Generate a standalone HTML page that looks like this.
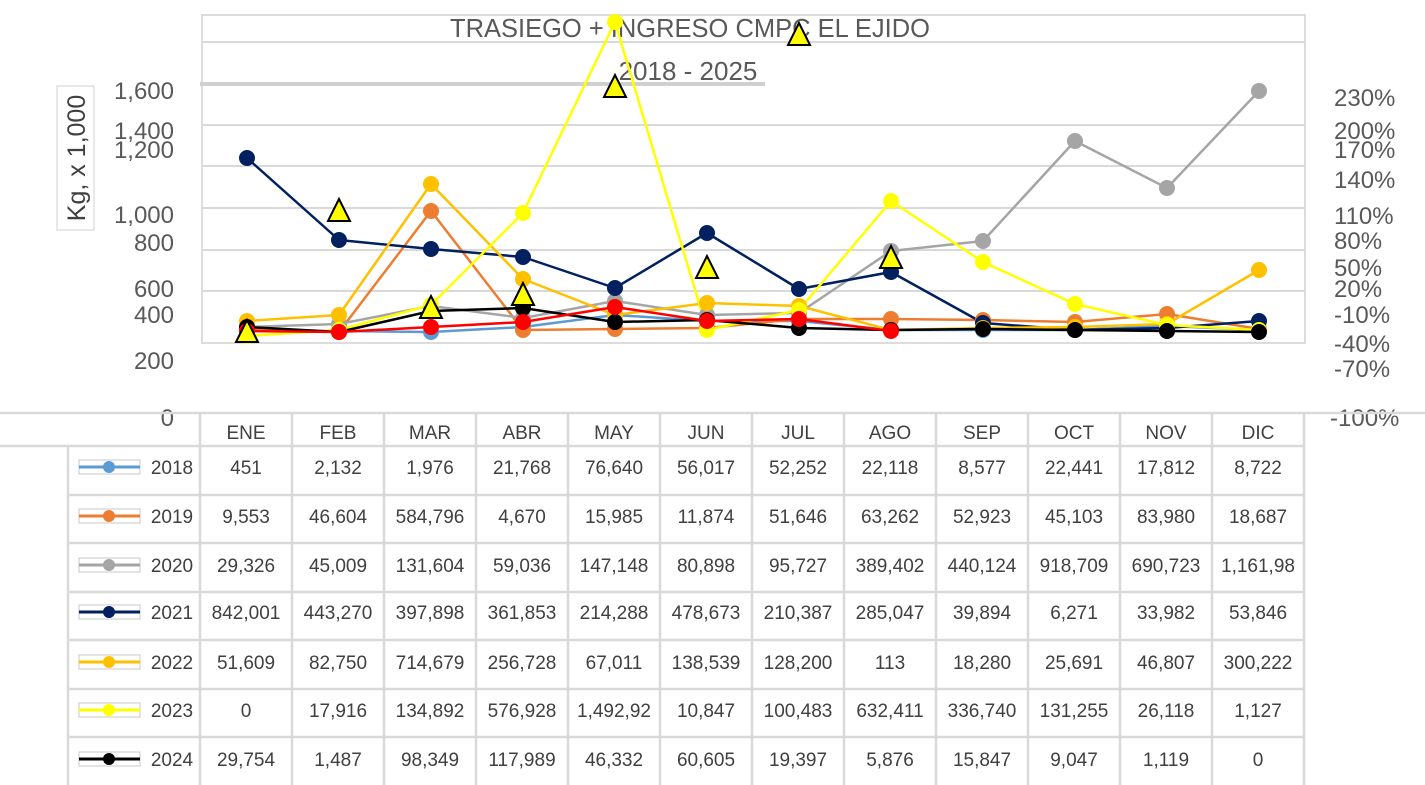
<!DOCTYPE html>
<html><head><meta charset="utf-8"><style>
html,body{margin:0;padding:0;background:#fff;width:1425px;height:785px;overflow:hidden}
svg{display:block;font-family:"Liberation Sans",sans-serif}
circle{r:8px}
.lg circle{r:6px}
</style></head><body>
<svg width="1425" height="785" viewBox="0 0 1425 785" xmlns="http://www.w3.org/2000/svg">
<rect width="1425" height="785" fill="#fff"/>
<rect x="202" y="15" width="1103" height="328" fill="#fff" stroke="#d0d0d0" stroke-width="1.5"/>
<g stroke="#d9d9d9" stroke-width="2">
<line x1="202" y1="42" x2="1305" y2="42"/>
<line x1="202" y1="125" x2="1305" y2="125"/>
<line x1="202" y1="166" x2="1305" y2="166"/>
<line x1="202" y1="208" x2="1305" y2="208"/>
<line x1="202" y1="250" x2="1305" y2="250"/>
<line x1="202" y1="291" x2="1305" y2="291"/>
</g>
<line x1="200" y1="84" x2="765" y2="84" stroke="#d0d0d0" stroke-width="4"/>
<text x="690" y="37" font-size="26" fill="#595959" text-anchor="middle" textLength="480" lengthAdjust="spacingAndGlyphs">TRASIEGO + INGRESO CMPC EL EJIDO</text>
<text x="688" y="80" font-size="26" fill="#595959" text-anchor="middle">2018 - 2025</text>
<rect x="57" y="86" width="37" height="144" fill="#fff" stroke="#d0d0d0" stroke-width="1"/>
<text transform="translate(85,158) rotate(-90)" font-size="25" fill="#404040" text-anchor="middle">Kg, x 1,000</text>
<g font-size="24" fill="#595959" text-anchor="end">
<text x="174" y="99">1,600</text>
<text x="174" y="139">1,400</text>
<text x="174" y="158">1,200</text>
<text x="174" y="223">1,000</text>
<text x="174" y="251">800</text>
<text x="174" y="297">600</text>
<text x="174" y="323">400</text>
<text x="174" y="369">200</text>
<text x="174" y="426">0</text>
</g>
<g font-size="24" fill="#595959" text-anchor="start">
<text x="1334" y="106">230%</text>
<text x="1334" y="139">200%</text>
<text x="1334" y="158">170%</text>
<text x="1334" y="188">140%</text>
<text x="1334" y="224">110%</text>
<text x="1334" y="249">80%</text>
<text x="1334" y="276">50%</text>
<text x="1334" y="297">20%</text>
<text x="1334" y="323">-10%</text>
<text x="1334" y="352">-40%</text>
<text x="1334" y="377">-70%</text>
<text x="1330" y="426">-100%</text>
</g>
<g fill="none" stroke-width="2.5" stroke-linejoin="round">
<polyline stroke="#5b9bd5" points="247,331 339,331 431,332 523,327 615,315 707,321 799,321 891,330 983,330 1075,330 1167,326 1259,330"/>
<polyline stroke="#ed7d31" points="247,329 339,332 431,211 523,330 615,329 707,328 799,319 891,319 983,320 1075,322 1167,314 1259,329"/>
<polyline stroke="#a5a5a5" points="247,327 339,324 431,306 523,318 615,301 707,315 799,313 891,251 983,241 1075,141 1167,188 1259,91"/>
<polyline stroke="#002060" points="247,158 339,240 431,249 523,257 615,288 707,233 799,289 891,272 983,323 1075,330 1167,328 1259,321"/>
<polyline stroke="#ffc000" points="247,321 339,315 431,184 523,279 615,315 707,303 799,306 891,330 983,328 1075,327 1167,324 1259,270"/>
<polyline stroke="#ffff00" points="247,336 339,330 431,305 523,213 615,22 707,330 799,310 891,201 983,262 1075,304 1167,325 1259,330"/>
<polyline stroke="#000" points="247,327 339,332 431,311 523,308 615,322 707,320 799,328 891,330 983,329 1075,330 1167,331 1259,332"/>
<polyline stroke="#ff0000" points="247,331 339,332 431,327 523,322 615,307 707,321 799,319 891,331"/>
</g>
<g fill="#5b9bd5"><circle cx="247" cy="331" r="7"/><circle cx="339" cy="331" r="7"/><circle cx="431" cy="332" r="7"/><circle cx="523" cy="327" r="7"/><circle cx="615" cy="315" r="7"/><circle cx="707" cy="321" r="7"/><circle cx="799" cy="321" r="7"/><circle cx="891" cy="330" r="7"/><circle cx="983" cy="330" r="7"/><circle cx="1075" cy="330" r="7"/><circle cx="1167" cy="326" r="7"/><circle cx="1259" cy="330" r="7"/></g>
<g fill="#ed7d31"><circle cx="247" cy="329" r="7"/><circle cx="339" cy="332" r="7"/><circle cx="431" cy="211" r="7"/><circle cx="523" cy="330" r="7"/><circle cx="615" cy="329" r="7"/><circle cx="707" cy="328" r="7"/><circle cx="799" cy="319" r="7"/><circle cx="891" cy="319" r="7"/><circle cx="983" cy="320" r="7"/><circle cx="1075" cy="322" r="7"/><circle cx="1167" cy="314" r="7"/><circle cx="1259" cy="329" r="7"/></g>
<g fill="#a5a5a5"><circle cx="247" cy="327" r="7"/><circle cx="339" cy="324" r="7"/><circle cx="431" cy="306" r="7"/><circle cx="523" cy="318" r="7"/><circle cx="615" cy="301" r="7"/><circle cx="707" cy="315" r="7"/><circle cx="799" cy="313" r="7"/><circle cx="891" cy="251" r="7"/><circle cx="983" cy="241" r="7"/><circle cx="1075" cy="141" r="7"/><circle cx="1167" cy="188" r="7"/><circle cx="1259" cy="91" r="7"/></g>
<g fill="#002060"><circle cx="247" cy="158" r="7"/><circle cx="339" cy="240" r="7"/><circle cx="431" cy="249" r="7"/><circle cx="523" cy="257" r="7"/><circle cx="615" cy="288" r="7"/><circle cx="707" cy="233" r="7"/><circle cx="799" cy="289" r="7"/><circle cx="891" cy="272" r="7"/><circle cx="983" cy="323" r="7"/><circle cx="1075" cy="330" r="7"/><circle cx="1167" cy="328" r="7"/><circle cx="1259" cy="321" r="7"/></g>
<g fill="#ffc000"><circle cx="247" cy="321" r="7"/><circle cx="339" cy="315" r="7"/><circle cx="431" cy="184" r="7"/><circle cx="523" cy="279" r="7"/><circle cx="615" cy="315" r="7"/><circle cx="707" cy="303" r="7"/><circle cx="799" cy="306" r="7"/><circle cx="891" cy="330" r="7"/><circle cx="983" cy="328" r="7"/><circle cx="1075" cy="327" r="7"/><circle cx="1167" cy="324" r="7"/><circle cx="1259" cy="270" r="7"/></g>
<g fill="#ffff00"><circle cx="247" cy="336" r="7"/><circle cx="339" cy="330" r="7"/><circle cx="431" cy="305" r="7"/><circle cx="523" cy="213" r="7"/><circle cx="615" cy="22" r="7"/><circle cx="707" cy="330" r="7"/><circle cx="799" cy="310" r="7"/><circle cx="891" cy="201" r="7"/><circle cx="983" cy="262" r="7"/><circle cx="1075" cy="304" r="7"/><circle cx="1167" cy="325" r="7"/><circle cx="1259" cy="330" r="7"/></g>
<g fill="#000"><circle cx="247" cy="327" r="7"/><circle cx="339" cy="332" r="7"/><circle cx="431" cy="311" r="7"/><circle cx="523" cy="308" r="7"/><circle cx="615" cy="322" r="7"/><circle cx="707" cy="320" r="7"/><circle cx="799" cy="328" r="7"/><circle cx="891" cy="330" r="7"/><circle cx="983" cy="329" r="7"/><circle cx="1075" cy="330" r="7"/><circle cx="1167" cy="331" r="7"/><circle cx="1259" cy="332" r="7"/></g>
<g fill="#ff0000"><circle cx="247" cy="331" r="7"/><circle cx="339" cy="332" r="7"/><circle cx="431" cy="327" r="7"/><circle cx="523" cy="322" r="7"/><circle cx="615" cy="307" r="7"/><circle cx="707" cy="321" r="7"/><circle cx="799" cy="319" r="7"/><circle cx="891" cy="331" r="7"/></g>
<g fill="#ffff00" stroke="#000" stroke-width="2" stroke-linejoin="miter">
<polygon points="247,320 236,342 258,342"/>
<polygon points="339,199 328,221 350,221"/>
<polygon points="431,296 420,318 442,318"/>
<polygon points="523,283 512,305 534,305"/>
<polygon points="615,75 604,97 626,97"/>
<polygon points="707,256 696,278 718,278"/>
<polygon points="799,23 788,45 810,45"/>
<polygon points="891,246 880,268 902,268"/>
</g>
<g stroke="#d9d9d9" stroke-width="2.5">
<line x1="0" y1="413" x2="1425" y2="413"/>
<line x1="0" y1="446" x2="1304" y2="446"/>
<line x1="68" y1="495" x2="1304" y2="495"/>
<line x1="68" y1="543" x2="1304" y2="543"/>
<line x1="68" y1="592" x2="1304" y2="592"/>
<line x1="68" y1="640" x2="1304" y2="640"/>
<line x1="68" y1="689" x2="1304" y2="689"/>
<line x1="68" y1="737" x2="1304" y2="737"/>
<line x1="68" y1="446" x2="68" y2="785"/>
<line x1="200" y1="413" x2="200" y2="785"/>
<line x1="292" y1="413" x2="292" y2="785"/>
<line x1="384" y1="413" x2="384" y2="785"/>
<line x1="476" y1="413" x2="476" y2="785"/>
<line x1="568" y1="413" x2="568" y2="785"/>
<line x1="660" y1="413" x2="660" y2="785"/>
<line x1="752" y1="413" x2="752" y2="785"/>
<line x1="844" y1="413" x2="844" y2="785"/>
<line x1="936" y1="413" x2="936" y2="785"/>
<line x1="1028" y1="413" x2="1028" y2="785"/>
<line x1="1120" y1="413" x2="1120" y2="785"/>
<line x1="1212" y1="413" x2="1212" y2="785"/>
<line x1="1304" y1="413" x2="1304" y2="785"/>
</g>
<g font-size="19" fill="#404040" text-anchor="middle">
<text x="246" y="439">ENE</text><text x="338" y="439">FEB</text><text x="430" y="439">MAR</text><text x="522" y="439">ABR</text><text x="614" y="439">MAY</text><text x="706" y="439">JUN</text><text x="798" y="439">JUL</text><text x="890" y="439">AGO</text><text x="982" y="439">SEP</text><text x="1074" y="439">OCT</text><text x="1166" y="439">NOV</text><text x="1258" y="439">DIC</text>
</g>
<g class="lg">
<rect x="79" y="460" width="61" height="14" fill="#fff" stroke="#c8c8c8"/><line x1="79" y1="467" x2="140" y2="467" stroke="#5b9bd5" stroke-width="3"/><circle cx="109" cy="467" r="6" fill="#5b9bd5"/>
<rect x="79" y="509" width="61" height="14" fill="#fff" stroke="#c8c8c8"/><line x1="79" y1="516" x2="140" y2="516" stroke="#ed7d31" stroke-width="3"/><circle cx="109" cy="516" r="6" fill="#ed7d31"/>
<rect x="79" y="558" width="61" height="14" fill="#fff" stroke="#c8c8c8"/><line x1="79" y1="565" x2="140" y2="565" stroke="#a5a5a5" stroke-width="3"/><circle cx="109" cy="565" r="6" fill="#a5a5a5"/>
<rect x="79" y="605" width="61" height="14" fill="#fff" stroke="#c8c8c8"/><line x1="79" y1="612" x2="140" y2="612" stroke="#002060" stroke-width="3"/><circle cx="109" cy="612" r="6" fill="#002060"/>
<rect x="79" y="655" width="61" height="14" fill="#fff" stroke="#c8c8c8"/><line x1="79" y1="662" x2="140" y2="662" stroke="#ffc000" stroke-width="3"/><circle cx="109" cy="662" r="6" fill="#ffc000"/>
<rect x="79" y="703" width="61" height="14" fill="#fff" stroke="#c8c8c8"/><line x1="79" y1="710" x2="140" y2="710" stroke="#ffff00" stroke-width="3"/><circle cx="109" cy="710" r="6" fill="#ffff00"/>
<rect x="79" y="752" width="61" height="14" fill="#fff" stroke="#c8c8c8"/><line x1="79" y1="759" x2="140" y2="759" stroke="#000" stroke-width="3"/><circle cx="109" cy="759" r="6" fill="#000"/>
</g>
<g font-size="19" fill="#404040" text-anchor="middle">
<text x="172" y="474">2018</text><text x="246" y="474">451</text><text x="338" y="474">2,132</text><text x="430" y="474">1,976</text><text x="522" y="474">21,768</text><text x="614" y="474">76,640</text><text x="706" y="474">56,017</text><text x="798" y="474">52,252</text><text x="890" y="474">22,118</text><text x="982" y="474">8,577</text><text x="1074" y="474">22,441</text><text x="1166" y="474">17,812</text><text x="1258" y="474">8,722</text>
<text x="172" y="523">2019</text><text x="246" y="523">9,553</text><text x="338" y="523">46,604</text><text x="430" y="523">584,796</text><text x="522" y="523">4,670</text><text x="614" y="523">15,985</text><text x="706" y="523">11,874</text><text x="798" y="523">51,646</text><text x="890" y="523">63,262</text><text x="982" y="523">52,923</text><text x="1074" y="523">45,103</text><text x="1166" y="523">83,980</text><text x="1258" y="523">18,687</text>
<text x="172" y="572">2020</text><text x="246" y="572">29,326</text><text x="338" y="572">45,009</text><text x="430" y="572">131,604</text><text x="522" y="572">59,036</text><text x="614" y="572">147,148</text><text x="706" y="572">80,898</text><text x="798" y="572">95,727</text><text x="890" y="572">389,402</text><text x="982" y="572">440,124</text><text x="1074" y="572">918,709</text><text x="1166" y="572">690,723</text><text x="1258" y="572">1,161,98</text>
<text x="172" y="619">2021</text><text x="246" y="619">842,001</text><text x="338" y="619">443,270</text><text x="430" y="619">397,898</text><text x="522" y="619">361,853</text><text x="614" y="619">214,288</text><text x="706" y="619">478,673</text><text x="798" y="619">210,387</text><text x="890" y="619">285,047</text><text x="982" y="619">39,894</text><text x="1074" y="619">6,271</text><text x="1166" y="619">33,982</text><text x="1258" y="619">53,846</text>
<text x="172" y="669">2022</text><text x="246" y="669">51,609</text><text x="338" y="669">82,750</text><text x="430" y="669">714,679</text><text x="522" y="669">256,728</text><text x="614" y="669">67,011</text><text x="706" y="669">138,539</text><text x="798" y="669">128,200</text><text x="890" y="669">113</text><text x="982" y="669">18,280</text><text x="1074" y="669">25,691</text><text x="1166" y="669">46,807</text><text x="1258" y="669">300,222</text>
<text x="172" y="717">2023</text><text x="246" y="717">0</text><text x="338" y="717">17,916</text><text x="430" y="717">134,892</text><text x="522" y="717">576,928</text><text x="614" y="717">1,492,92</text><text x="706" y="717">10,847</text><text x="798" y="717">100,483</text><text x="890" y="717">632,411</text><text x="982" y="717">336,740</text><text x="1074" y="717">131,255</text><text x="1166" y="717">26,118</text><text x="1258" y="717">1,127</text>
<text x="172" y="766">2024</text><text x="246" y="766">29,754</text><text x="338" y="766">1,487</text><text x="430" y="766">98,349</text><text x="522" y="766">117,989</text><text x="614" y="766">46,332</text><text x="706" y="766">60,605</text><text x="798" y="766">19,397</text><text x="890" y="766">5,876</text><text x="982" y="766">15,847</text><text x="1074" y="766">9,047</text><text x="1166" y="766">1,119</text><text x="1258" y="766">0</text>
</g>
</svg>
</body></html>
